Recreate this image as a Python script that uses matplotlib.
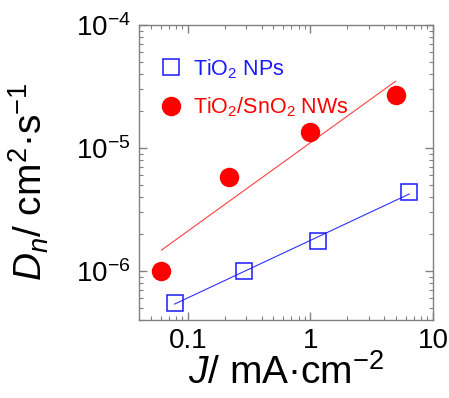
import matplotlib
matplotlib.use("Agg")
import matplotlib.pyplot as plt
import numpy as np
from matplotlib.ticker import LogLocator, FuncFormatter, NullFormatter

plt.rcParams['font.family'] = ['Liberation Sans', 'DejaVu Sans']
plt.rcParams['mathtext.fontset'] = 'custom'
plt.rcParams['mathtext.rm'] = 'Liberation Sans'
plt.rcParams['mathtext.it'] = 'Liberation Sans:italic'

# current density (mA cm^-2) and diffusion coefficient (cm^2 s^-1)
j_np = [0.078, 0.287, 1.15, 6.4]
dn_np = [5.5e-7, 1.0e-6, 1.77e-6, 4.4e-6]

j_nw = [0.061, 0.218, 1.0, 4.95]
dn_nw = [1.0e-6, 5.8e-6, 1.35e-5, 2.7e-5]

label_np = r'TiO$_2$ NPs'
label_nw = r'TiO$_2$/SnO$_2$ NWs'

fig = plt.figure(figsize=(4.49, 3.98), dpi=100)
ax = fig.add_axes([0.3096, 0.196, 0.6548, 0.741])


def powerlaw_fit(x, y):
    # straight line in log-log space between first and last point
    p = np.polyfit(np.log10(x), np.log10(y), 1)
    xs = np.array([x[0], x[-1]])
    return xs, 10 ** np.polyval(p, np.log10(xs))


xf, yf = powerlaw_fit(j_np, dn_np)
ax.plot(xf, yf, color='#3030ff', lw=0.8)
xf, yf = powerlaw_fit(j_nw, dn_nw)
ax.plot(xf, yf, color='#ff4040', lw=0.8)

ax.plot(j_np, dn_np, 's', ms=11.5, mfc='none', mec='#1a1aff', mew=1.1,
        label=label_np)
ax.plot(j_nw, dn_nw, 'o', ms=13, color='#ff0000', label=label_nw)

ax.set_xscale('log')
ax.set_yscale('log')
ax.set_xlim(0.04, 10)
ax.set_ylim(4e-7, 1e-4)

ax.xaxis.set_major_locator(LogLocator(base=10))
ax.xaxis.set_minor_locator(LogLocator(base=10, subs=np.arange(2, 10)))
ax.yaxis.set_major_locator(LogLocator(base=10))
ax.yaxis.set_minor_locator(LogLocator(base=10, subs=np.arange(2, 10)))
ax.xaxis.set_major_formatter(FuncFormatter(lambda v, p: '%g' % v))
ax.yaxis.set_major_formatter(FuncFormatter(
    lambda v, p: r'$\mathregular{10^{%d}}$' % round(np.log10(v))))
ax.xaxis.set_minor_formatter(NullFormatter())
ax.yaxis.set_minor_formatter(NullFormatter())

for s in ax.spines.values():
    s.set_color('#808080')
    s.set_linewidth(1.0)
ax.tick_params(which='both', direction='in', top=True, right=True,
               color='#808080', labelsize=20)
ax.tick_params(which='major', length=6, width=1, pad=6)
ax.tick_params(which='minor', length=3, width=0.8)

ax.set_xlabel(r'$J$/ mA·cm$^{-2}$', fontsize=28, labelpad=0)
ax.set_ylabel(r'$D_n$/ cm$^2$·s$^{-1}$', fontsize=28)
ax.yaxis.set_label_coords(-0.30, 0.47)

leg = ax.legend(loc='upper left', frameon=False, fontsize=15.5,
                handletextpad=0.5, borderaxespad=0.6, labelspacing=0.7,
                handlelength=1.0, bbox_to_anchor=(0.0, 0.965))
for txt, col in zip(leg.get_texts(), ['#1a1aff', '#ff0000']):
    txt.set_color(col)

fig.savefig('out.png', dpi=100)
